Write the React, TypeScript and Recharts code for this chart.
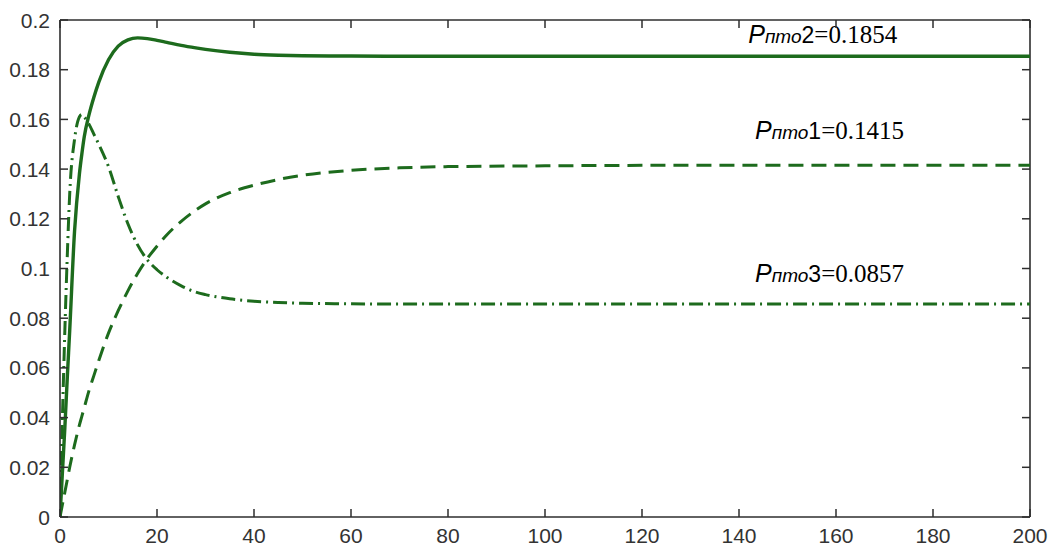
import { LineChart, Line, XAxis, YAxis, ReferenceDot, ReferenceLine } from "recharts";

// time points (non-uniform, denser where curves bend)
const times = [0, 0.5, 1, 1.5, 2, 3, 4, 4.5, 5, 6, 7, 8, 10, 12, 14, 16, 18, 20, 22, 25, 28, 30, 35, 40, 45, 50, 60, 70, 80, 100, 120, 150, 200];

// dashed curve, P_PTO1
const p1 = [0, 0.005, 0.01, 0.015, 0.02, 0.029, 0.037, 0.0405, 0.044, 0.051, 0.057, 0.063, 0.074, 0.083, 0.091, 0.098, 0.104, 0.109, 0.1135, 0.119, 0.1235, 0.126, 0.1305, 0.1335, 0.1358, 0.1375, 0.1395, 0.1405, 0.141, 0.1413, 0.1415, 0.1415, 0.1415];
// solid curve, P_PTO2
const p2 = [0, 0.018, 0.036, 0.056, 0.075, 0.115, 0.138, 0.146, 0.153, 0.162, 0.169, 0.175, 0.184, 0.1895, 0.192, 0.1928, 0.1925, 0.1918, 0.191, 0.1898, 0.1888, 0.1882, 0.187, 0.1862, 0.1858, 0.1856, 0.1855, 0.1854, 0.1854, 0.1854, 0.1854, 0.1854, 0.1854];
// dash-dot curve, P_PTO3
const p3 = [0, 0.04, 0.075, 0.105, 0.13, 0.152, 0.161, 0.162, 0.161, 0.158, 0.154, 0.15, 0.141, 0.129, 0.118, 0.1095, 0.1035, 0.0995, 0.0965, 0.093, 0.0905, 0.0895, 0.0878, 0.0868, 0.0863, 0.086, 0.0858, 0.0857, 0.0857, 0.0857, 0.0857, 0.0857, 0.0857];

const xTicks = [0, 20, 40, 60, 80, 100, 120, 140, 160, 180, 200];
const yTicks = [0, 0.02, 0.04, 0.06, 0.08, 0.1, 0.12, 0.14, 0.16, 0.18, 0.2];

const notes = [
  { t: 141.9, v: 0.1907, idx: "2", value: "0.1854" },
  { t: 143.3, v: 0.1521, idx: "1", value: "0.1415" },
  { t: 143.3, v: 0.0946, idx: "3", value: "0.0857" },
];

const data = times.map((t, i) => ({ t, p1: p1[i], p2: p2[i], p3: p3[i] }));

const W = 1052, H = 548;
const M = { top: 20, right: 22, left: 0, bottom: 0 };
const Y_W = 60, X_H = 31;
const PLOT_W = W - M.left - M.right - Y_W; // 970
const PLOT_H = H - M.top - M.bottom - X_H; // 497

const GREEN = "#1d6b1d";
const AXIS = "#2e2e2e";
const SANS = "'Liberation Sans', Arial, sans-serif";
const TL = 8; // tick length, pointing inward
const GAP = 10;

// MATLAB box ticks: bottom tick also draws the matching top tick
function XTick(props: any) {
  const { x, y, payload } = props;
  const ay = y - GAP;
  return (
    <g>
      <line x1={x} x2={x} y1={ay} y2={ay - TL} stroke={AXIS} strokeWidth={1.5} />
      <line x1={x} x2={x} y1={ay - PLOT_H} y2={ay - PLOT_H + TL} stroke={AXIS} strokeWidth={1.5} />
      <text x={x} y={y} dy="0.75em" textAnchor="middle" fontSize={21} fontFamily={SANS} fill="#333">{payload.value}</text>
    </g>
  );
}

// left tick also draws the matching right tick
function YTick(props: any) {
  const { x, y, payload } = props;
  const ax = x + GAP;
  return (
    <g>
      <line x1={ax} x2={ax + TL} y1={y} y2={y} stroke={AXIS} strokeWidth={1.5} />
      <line x1={ax + PLOT_W} x2={ax + PLOT_W - TL} y1={y} y2={y} stroke={AXIS} strokeWidth={1.5} />
      <text x={x} y={y} dy="0.36em" textAnchor="end" fontSize={21} fontFamily={SANS} fill="#333">{payload.value}</text>
    </g>
  );
}

function Note({ cx, cy, idx, value }: any) {
  return (
    <text x={cx} y={cy} fill="#000">
      <tspan fontFamily={SANS} fontStyle="italic" fontSize={25}>P</tspan>
      <tspan fontFamily={SANS} fontStyle="italic" fontSize={19}>пто</tspan>
      <tspan fontFamily={SANS} fontSize={23}>{idx}</tspan>
      <tspan fontFamily="'Liberation Serif', 'Times New Roman', serif" fontSize={25}>={value}</tspan>
    </text>
  );
}

export default function App() {
  return (
    <div style={{ position: "fixed", left: 0, top: 0, width: W, height: H, background: "#fff" }}>
      <LineChart width={W} height={H} data={data} margin={M}>
        <XAxis
          dataKey="t" type="number" domain={[0, 200]} ticks={xTicks} height={X_H}
          tickSize={0} tickMargin={GAP} tickLine={false} tick={(p: any) => <XTick {...p} />}
          stroke={AXIS} strokeWidth={1.6} allowDataOverflow
        />
        <YAxis
          type="number" domain={[0, 0.2]} ticks={yTicks} width={Y_W}
          tickSize={0} tickMargin={GAP} tickLine={false} tick={(p: any) => <YTick {...p} />}
          stroke={AXIS} strokeWidth={1.6} allowDataOverflow
        />
        <ReferenceLine y={0.2} stroke={AXIS} strokeWidth={1.6} />
        <ReferenceLine x={200} stroke={AXIS} strokeWidth={1.6} />
        <Line type="monotone" dataKey="p1" stroke={GREEN} strokeWidth={3} strokeDasharray="15 8" dot={false} isAnimationActive={false} />
        <Line type="monotone" dataKey="p3" stroke={GREEN} strokeWidth={3} strokeDasharray="14 5 2 5" dot={false} isAnimationActive={false} />
        <Line type="monotone" dataKey="p2" stroke={GREEN} strokeWidth={3.4} dot={false} isAnimationActive={false} />
        {notes.map((n) => (
          <ReferenceDot
            key={n.idx} x={n.t} y={n.v} r={1}
            shape={(p: any) => <Note cx={p.cx} cy={p.cy} idx={n.idx} value={n.value} />}
          />
        ))}
      </LineChart>
    </div>
  );
}
